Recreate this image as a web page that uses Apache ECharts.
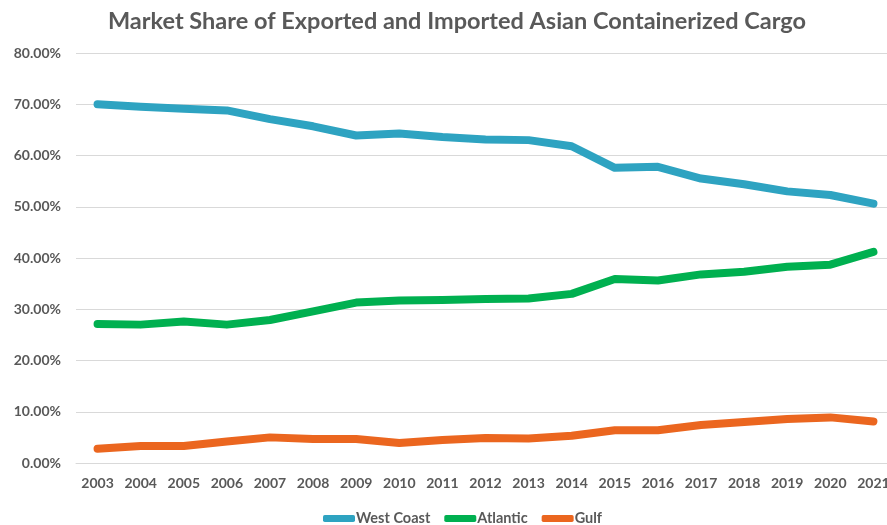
<!DOCTYPE html>
<html>
<head>
<meta charset="utf-8">
<script src="https://cdn.jsdelivr.net/npm/echarts@6/dist/echarts.min.js"></script>
<style>
  html, body { margin: 0; padding: 0; background: #fff; }
  #chart { width: 887px; height: 525px; }
</style>
</head>
<body>
<div id="chart"></div>
<script>
// Years on the category axis
const years = ['2003','2004','2005','2006','2007','2008','2009','2010','2011','2012',
               '2013','2014','2015','2016','2017','2018','2019','2020','2021'];

// Market share by coast (percent)
const westCoast = [70.0, 69.5, 69.1, 68.8, 67.1, 65.7, 63.9, 64.3, 63.6, 63.1,
                   63.0, 61.8, 57.6, 57.8, 55.5, 54.4, 53.0, 52.3, 50.6];
const atlantic  = [27.1, 27.0, 27.6, 27.0, 27.9, 29.6, 31.3, 31.7, 31.8, 32.0,
                   32.1, 33.0, 35.9, 35.6, 36.8, 37.3, 38.3, 38.7, 41.2];
const gulf      = [2.8, 3.3, 3.3, 4.2, 5.0, 4.7, 4.7, 3.9, 4.5, 4.9,
                   4.8, 5.3, 6.4, 6.4, 7.4, 8.0, 8.6, 8.9, 8.1];

const seriesNames = ['West Coast', 'Atlantic', 'Gulf'];
const seriesColors = ['#2ea3c1', '#00b050', '#eb661f'];
const seriesData = [westCoast, atlantic, gulf];

const fontFam = 'Lato, "Open Sans", sans-serif';
const chart = echarts.init(document.getElementById('chart'), null, { renderer: 'canvas' });

chart.setOption({
  animation: false,
  backgroundColor: '#ffffff',
  title: {
    text: 'Market Share of Exported and Imported Asian Containerized Cargo',
    left: 452,
    textAlign: 'center',
    top: 4,
    textStyle: { fontFamily: fontFam, fontSize: 23.5, fontWeight: 'bold', color: '#595959' }
  },
  legend: {
    top: 506,
    left: 318,
    icon: 'roundRect',
    itemWidth: 32,
    itemHeight: 7,
    itemGap: 14,
    data: seriesNames,
    textStyle: { fontFamily: fontFam, fontSize: 14.5, fontWeight: 'bold', color: '#595959', padding: [0, 0, 0, -4] }
  },
  grid: { left: 76, right: -8, top: 53, bottom: 62, containLabel: false, outerBoundsMode: 'none' },
  xAxis: {
    type: 'category',
    data: years,
    boundaryGap: true,
    axisLine: { show: true, lineStyle: { color: '#d9d9d9', width: 1 } },
    axisTick: { show: false },
    axisLabel: { fontFamily: fontFam, fontSize: 14, fontWeight: 'bold', color: '#595959', margin: 13, interval: 0 }
  },
  yAxis: {
    type: 'value',
    min: 0,
    max: 80,
    interval: 10,
    axisLine: { show: false },
    axisTick: { show: false },
    splitLine: { lineStyle: { color: '#d9d9d9', width: 1 } },
    axisLabel: {
      fontFamily: fontFam, fontSize: 14, fontWeight: 'bold', color: '#595959', margin: 15,
      formatter: v => v.toFixed(2) + '%'
    }
  },
  series: seriesNames.map((name, i) => ({
    name,
    type: 'line',
    data: seriesData[i],
    showSymbol: false,
    symbol: 'none',
    smooth: false,
    color: seriesColors[i],
    lineStyle: { width: 8, color: seriesColors[i], cap: 'round', join: 'round' }
  }))
});
</script>
</body>
</html>
